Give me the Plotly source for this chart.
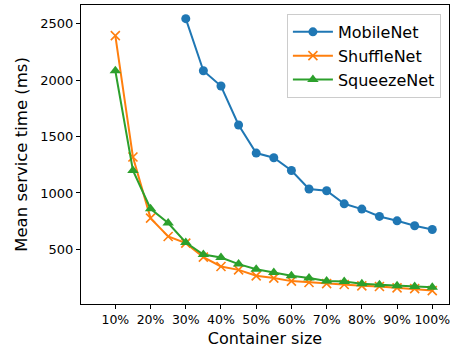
import plotly.graph_objects as go

# Container size (% of full allocation) and mean service time (ms) per model
sizes = [10, 15, 20, 25, 30, 35, 40, 45, 50, 55, 60, 65, 70, 75, 80, 85, 90, 95, 100]
mobilenet = [None, None, None, None, 2547, 2085, 1949, 1603, 1354, 1313, 1200,
             1035, 1020, 904, 857, 792, 753, 709, 676]
shufflenet = [2396, 1319, 777, 614, 555, 431, 348, 318, 265, 245, 218,
              206, 196, 188, 176, 170, 158, 152, 134]
squeezenet = [2085, 1200, 860, 733, 561, 454, 428, 369, 324, 294, 265,
              245, 220, 214, 194, 185, 176, 170, 164]

x_tickvals = [10, 20, 30, 40, 50, 60, 70, 80, 90, 100]
x_ticktext = ["10%", "20%", "30%", "40%", "50%", "60%", "70%", "80%", "90%", "100%"]
y_tickvals = [500, 1000, 1500, 2000, 2500]

FONT = "DejaVu Sans"

fig = go.Figure()
fig.add_trace(go.Scatter(
    x=sizes, y=mobilenet, name="MobileNet", mode="lines+markers",
    line=dict(color="#1f77b4", width=2),
    marker=dict(symbol="circle", size=9, color="#1f77b4"),
))
fig.add_trace(go.Scatter(
    x=sizes, y=shufflenet, name="ShuffleNet", mode="lines+markers",
    line=dict(color="#ff7f0e", width=2),
    marker=dict(symbol="x-thin-open", size=9, color="#ff7f0e",
                line=dict(color="#ff7f0e", width=1.6)),
))
fig.add_trace(go.Scatter(
    x=sizes, y=squeezenet, name="SqueezeNet", mode="lines+markers",
    line=dict(color="#2ca02c", width=2),
    marker=dict(symbol="triangle-up", size=10, color="#2ca02c"),
))

axis_common = dict(
    showgrid=False, zeroline=False, showline=True, linecolor="black",
    linewidth=1, mirror=True, ticks="outside", ticklen=4, tickwidth=1,
    tickcolor="black", ticklabeloverflow="allow", tickangle=0, automargin=False,
)

fig.update_layout(
    width=450, height=350,
    margin=dict(l=81, r=1, t=5, b=46),
    paper_bgcolor="white", plot_bgcolor="white",
    font=dict(family=FONT, color="black"),
    xaxis=dict(
        **axis_common, range=[0.25, 104.75],
        tickvals=x_tickvals, ticktext=x_ticktext,
        tickfont=dict(family=FONT, size=12.5, color="black"),
        title=dict(text="Container size", font=dict(family=FONT, size=16), standoff=6),
    ),
    yaxis=dict(
        **axis_common, range=[15, 2668], tickvals=y_tickvals,
        tickfont=dict(family=FONT, size=13, color="black"),
        title=dict(text="Mean service time (ms)", font=dict(family=FONT, size=16.5), standoff=8),
    ),
    legend=dict(
        x=0.978, y=0.97, xanchor="right", yanchor="top",
        bgcolor="rgba(255,255,255,0.8)", bordercolor="#cccccc", borderwidth=1,
        font=dict(family=FONT, size=16, color="black"),
        tracegroupgap=0, itemwidth=40,
    ),
    showlegend=True,
)

fig.write_html("out.html")
